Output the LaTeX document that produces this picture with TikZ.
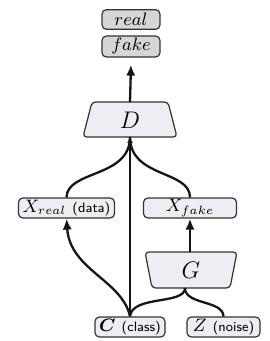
\documentclass[tikz,border=0pt]{standalone}
\usepackage{amsmath,bm}
\usetikzlibrary{arrows.meta}
\definecolor{boxfill}{HTML}{EDEDF3}
\definecolor{outfill}{HTML}{D6D6D8}
\definecolor{edge}{HTML}{333333}
\definecolor{wire}{HTML}{151515}
\newcommand{\smalllbl}[1]{{\sffamily\fontsize{6.8}{8}\selectfont #1}}
\tikzset{
  box/.style={draw=edge, line width=0.6pt, fill=boxfill, rounded corners=2.2pt, inner sep=0pt, minimum height=10pt, font=\fontsize{9}{10}\selectfont},
  outbox/.style={box, fill=outfill, minimum width=29pt, font=\fontsize{9.5}{10}\selectfont},
  trap/.style={draw=edge, line width=0.6pt, fill=boxfill, rounded corners=1.8pt},
  wirestyle/.style={draw=wire, line width=1.15pt},
  arr/.style={wirestyle, -{Latex[length=5.5pt,width=4.6pt]}},
  smallarr/.style={wirestyle, -{Latex[length=3pt,width=3pt]}}
}
\begin{document}
\begin{tikzpicture}[x=0.5pt,y=-0.5pt]
\useasboundingbox (0,0) rectangle (269,341);
% output boxes
\node[outbox, minimum height=9.8pt] (real) at (131,19.5) {$real$};
\node[outbox, minimum height=10.5pt] (fake) at (131,46.5) {$fake$};
% discriminator D
\path[trap] (92,102) -- (168,102) -- (177,137) -- (83,137) -- cycle;
\node[font=\fontsize{12}{13}\selectfont] (D) at (130,120) {$D$};
\coordinate (Dtop) at (130,102);
\coordinate (Dbot) at (130,137);
% generator G
\path[trap] (145,252) -- (237,252) -- (230,288) -- (152,288) -- cycle;
\node[font=\fontsize{12}{13}\selectfont] (G) at (191,270) {$G$};
\coordinate (Gtop) at (190,252);
\coordinate (Gbot) at (185,288);
% middle boxes
\node[box, minimum width=48pt] (Xr) at (66.5,208) {$X_{real}$\ \smalllbl{(data)}};
\node[box, minimum width=46.5pt] (Xf) at (190,208) {$X_{fake}$};
\node[box, minimum width=35pt] (C) at (130,327) {$\bm{C}$\ \smalllbl{(class)}};
\node[box, minimum width=36.5pt] (Z) at (223.5,327) {$Z$\ \smalllbl{(noise)}};
% connectors
\draw[arr] (Dtop) -- ([yshift=-3.5pt]fake.south);
\draw[wirestyle] (Xr.north) .. controls (67,170) and (130,178) .. (Dbot);
\draw[wirestyle] (Xf.north) .. controls (190,170) and (130,178) .. (Dbot);
\draw[smallarr] (C.north) -- (Dbot);
\draw[arr] (C.north) .. controls (122,280) and (70,270) .. (Xr.south);
\draw[wirestyle] (C.north) .. controls (132,295) and (185,305) .. (Gbot);
\draw[wirestyle] (Z.north) .. controls (223,300) and (185,305) .. (Gbot);
\draw[arr] (Gtop) -- (Xf.south);
\end{tikzpicture}
\end{document}
